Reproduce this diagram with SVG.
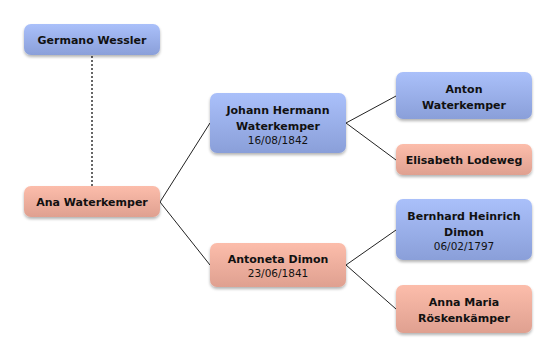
<svg xmlns="http://www.w3.org/2000/svg" width="556" height="357" viewBox="0 0 556 357">
<defs>
<linearGradient id="gb" x1="0" y1="0" x2="0" y2="1">
<stop offset="0" stop-color="#aac0fa"/><stop offset="1" stop-color="#8a9fd9"/>
</linearGradient>
<linearGradient id="gr" x1="0" y1="0" x2="0" y2="1">
<stop offset="0" stop-color="#fcbdab"/><stop offset="1" stop-color="#dfa090"/>
</linearGradient>
<filter id="sh" x="-10%" y="-20%" width="120%" height="150%">
<feGaussianBlur in="SourceAlpha" stdDeviation="1.5"/>
<feOffset dx="0" dy="1.5"/>
<feComponentTransfer><feFuncA type="linear" slope="0.3"/></feComponentTransfer>
<feMerge><feMergeNode/><feMergeNode in="SourceGraphic"/></feMerge>
</filter>
</defs>
<style>
.b{fill:url(#gb);filter:url(#sh)}
.r{fill:url(#gr);filter:url(#sh)}
text{font-family:"DejaVu Sans",sans-serif;font-size:11px;text-anchor:middle;fill:#111}
.n{font-weight:bold}
.d{font-size:10.5px}
.c{stroke:#222;stroke-width:1;fill:none}
.dot{stroke:#666;stroke-width:2;stroke-dasharray:2,2;fill:none}
</style>
<rect width="556" height="357" fill="#fff"/>
<g id="connectors">
<line class="dot" x1="92" y1="56" x2="92" y2="186"/>
<polyline class="c" points="210,123 160,202 210,265"/>
<polyline class="c" points="396,96 346,123 396,160"/>
<polyline class="c" points="396,230 346,265 396,309"/>
</g>
<g id="germano"><rect class="b" x="24" y="24" width="136" height="31" rx="7"/><text class="n" x="92" y="44">Germano Wessler</text></g>
<g id="ana"><rect class="r" x="24" y="186" width="136" height="31" rx="7"/><text class="n" x="92" y="206">Ana Waterkemper</text></g>
<g id="johann"><rect class="b" x="210" y="93" width="136" height="60" rx="7"/><text class="n" x="278" y="114">Johann Hermann</text><text class="n" x="278" y="130">Waterkemper</text><text class="d" x="278" y="144">16/08/1842</text></g>
<g id="antoneta"><rect class="r" x="210" y="243" width="136" height="44" rx="7"/><text class="n" x="278" y="263">Antoneta Dimon</text><text class="d" x="278" y="277">23/06/1841</text></g>
<g id="anton"><rect class="b" x="396" y="72" width="136" height="47" rx="7"/><text class="n" x="464" y="93">Anton</text><text class="n" x="464" y="109">Waterkemper</text></g>
<g id="elisabeth"><rect class="r" x="396" y="144" width="136" height="31" rx="7"/><text class="n" x="464" y="164">Elisabeth Lodeweg</text></g>
<g id="bernhard"><rect class="b" x="396" y="199" width="136" height="61" rx="7"/><text class="n" x="464" y="220">Bernhard Heinrich</text><text class="n" x="464" y="236">Dimon</text><text class="d" x="464" y="250">06/02/1797</text></g>
<g id="anna"><rect class="r" x="396" y="285" width="136" height="48" rx="7"/><text class="n" x="464" y="306">Anna Maria</text><text class="n" x="464" y="322">Röskenkämper</text></g>
</svg>
